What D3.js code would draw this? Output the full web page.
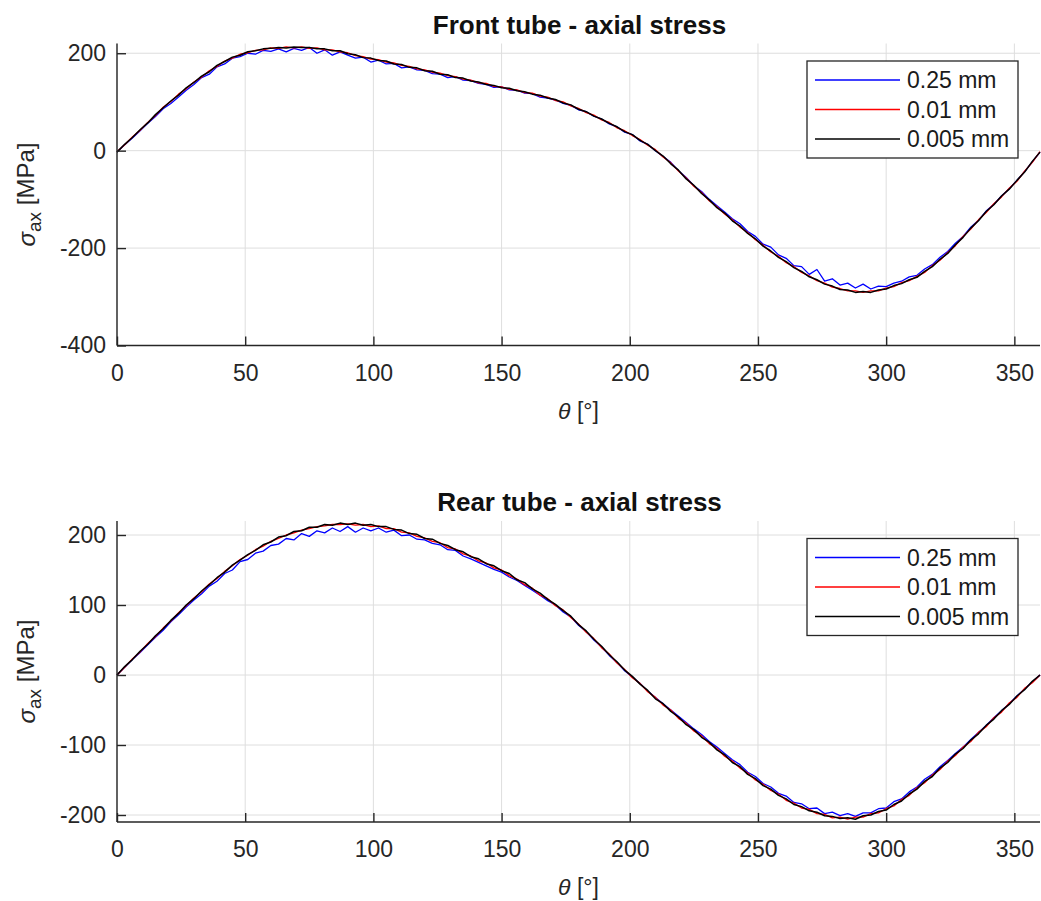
<!DOCTYPE html>
<html>
<head>
<meta charset="utf-8">
<script src="https://cdn.jsdelivr.net/npm/d3@7"></script>
<style>
  body { margin: 0; background: #fff; }
  text { font-family: "Liberation Sans", Arial, Helvetica, sans-serif; }
</style>
</head>
<body>
<svg id="fig" width="1041" height="901"></svg>
<script>
// Crank angle grid (degrees), one sample every 3°
const theta = d3.range(0, 361, 3);

const xTicks = [0, 50, 100, 150, 200, 250, 300, 350];
const frontYTicks = [-400, -200, 0, 200];
const rearYTicks = [-200, -100, 0, 100, 200];

const seriesNames = ["0.25 mm", "0.01 mm", "0.005 mm"];
const seriesColors = ["#0000ff", "#ff0000", "#000000"];

// Front tube axial stress [MPa]
const front025 = [
  -3, 12, 26, 41, 56, 70, 86, 97, 110, 124,
  136, 150, 157, 172, 178, 190, 193, 200, 198, 206,
  204, 209, 203, 210, 206, 212, 200, 207, 196, 203,
  196, 190, 192, 182, 186, 178, 179, 170, 172, 166,
  165, 158, 157, 150, 152, 145, 144, 138, 136, 130,
  131, 125, 124, 118, 117, 110, 108, 104, 97, 93,
  84, 80, 71, 65, 55, 49, 38, 33, 20, 13,
  0, -12, -24, -41, -55, -72, -84, -100, -113, -126,
  -140, -150, -166, -176, -192, -198, -214, -221, -236, -238,
  -254, -244, -268, -263, -276, -272, -282, -274, -284, -278,
  -279, -272, -268, -259, -256, -243, -234, -219, -207, -190,
  -176, -157, -143, -124, -110, -93, -78, -61, -43, -23,
  -3
];
const front001 = [
  -2, 12, 28, 42, 58, 72, 89, 101, 116, 127,
  141, 151, 164, 173, 184, 190, 198, 201, 206, 207,
  211, 210, 213, 211, 213, 210, 211, 207, 207, 203,
  201, 195, 193, 188, 187, 182, 180, 175, 173, 168,
  166, 161, 159, 154, 152, 147, 145, 139, 138, 132,
  131, 126, 125, 119, 118, 112, 110, 103, 100, 92,
  87, 78, 73, 63, 58, 47, 41, 31, 23, 11,
  2, -13, -25, -42, -56, -73, -86, -103, -115, -130,
  -142, -157, -168, -183, -194, -208, -217, -230, -238, -250,
  -257, -267, -272, -280, -283, -288, -288, -291, -288, -288,
  -282, -279, -271, -267, -258, -250, -236, -225, -209, -195,
  -176, -161, -142, -127, -109, -95, -77, -63, -42, -24,
  -2
];
const front0005 = [
  -3, 13, 27, 43, 57, 74, 88, 102, 114, 129,
  140, 153, 162, 175, 183, 192, 196, 203, 205, 209,
  210, 212, 211, 213, 212, 212, 209, 209, 205, 205,
  199, 197, 191, 190, 185, 184, 178, 177, 171, 170,
  164, 163, 157, 156, 150, 149, 143, 141, 136, 134,
  129, 128, 123, 121, 116, 114, 108, 105, 98, 94,
  85, 80, 71, 65, 56, 49, 39, 33, 21, 13,
  0, -11, -27, -40, -58, -71, -88, -101, -117, -128,
  -144, -155, -170, -181, -196, -206, -219, -228, -240, -248,
  -259, -265, -274, -278, -285, -286, -291, -289, -291, -286,
  -284, -277, -273, -265, -260, -248, -238, -223, -211, -193,
  -178, -159, -144, -125, -111, -93, -79, -61, -44, -22,
  -3
];

// Rear tube axial stress [MPa]
const rear025 = [
  0, 11, 22, 32, 43, 54, 64, 76, 86, 97,
  107, 116, 127, 134, 145, 150, 162, 165, 174, 177,
  185, 187, 195, 193, 202, 198, 206, 203, 210, 205,
  212, 204, 210, 206, 210, 204, 207, 199, 200, 194,
  193, 188, 186, 179, 178, 170, 166, 161, 156, 151,
  147, 140, 135, 128, 121, 114, 106, 100, 90, 83,
  71, 62, 50, 40, 28, 18, 6, -3, -12, -23,
  -32, -41, -50, -59, -68, -77, -85, -95, -103, -112,
  -121, -128, -139, -145, -155, -160, -169, -173, -182, -184,
  -191, -190, -198, -196, -201, -198, -202, -197, -197, -191,
  -190, -181, -177, -167, -160, -149, -142, -131, -122, -112,
  -103, -92, -82, -72, -61, -51, -41, -30, -20, -10,
  0
];
const rear001 = [
  0, 11, 23, 33, 45, 55, 67, 77, 89, 99,
  110, 119, 130, 138, 148, 156, 165, 171, 179, 184,
  191, 195, 200, 203, 207, 209, 212, 213, 215, 215,
  216, 214, 215, 212, 213, 209, 209, 204, 203, 198,
  196, 191, 189, 182, 180, 173, 170, 163, 160, 153,
  150, 142, 137, 129, 124, 114, 109, 99, 93, 82,
  73, 61, 52, 39, 30, 17, 8, -4, -12, -24,
  -32, -43, -50, -62, -69, -80, -87, -98, -105, -116,
  -123, -133, -140, -150, -156, -165, -170, -179, -183, -190,
  -192, -198, -199, -204, -203, -206, -203, -203, -198, -197,
  -191, -187, -178, -172, -161, -154, -143, -135, -123, -115,
  -103, -95, -82, -74, -61, -53, -40, -32, -19, -11,
  0
];
const rear0005 = [
  0, 12, 22, 34, 44, 56, 66, 78, 88, 100,
  109, 120, 129, 139, 147, 157, 164, 172, 178, 186,
  190, 197, 199, 205, 206, 211, 211, 215, 214, 217,
  215, 217, 214, 215, 212, 212, 208, 207, 202, 201,
  195, 194, 188, 185, 179, 176, 169, 166, 159, 156,
  149, 145, 136, 132, 123, 117, 108, 101, 92, 84,
  72, 63, 51, 41, 29, 19, 7, -2, -13, -22,
  -34, -41, -52, -60, -71, -78, -89, -96, -107, -114,
  -125, -131, -142, -148, -158, -163, -172, -177, -185, -188,
  -194, -196, -201, -202, -205, -204, -206, -201, -200, -195,
  -193, -185, -180, -170, -163, -152, -145, -133, -125, -113,
  -105, -93, -84, -72, -63, -51, -42, -30, -21, -9,
  0
];

const panels = [
  { title: "Front tube - axial stress", yDomain: [-400, 220], yTicks: frontYTicks,
    top: 43.5, bottom: 345.5, series: [front025, front001, front0005] },
  { title: "Rear tube - axial stress", yDomain: [-210, 220], yTicks: rearYTicks,
    top: 521, bottom: 822, series: [rear025, rear001, rear0005] }
];

const axisColor = "#262626";
const gridColor = "#dedede";
const left = 117, right = 1040;
const svg = d3.select("#fig");
const plain = d => String(d);   // hyphen-minus labels

panels.forEach(p => {
  const x = d3.scaleLinear().domain([0, 360]).range([left, right]);
  const y = d3.scaleLinear().domain(p.yDomain).range([p.bottom, p.top]);
  const g = svg.append("g");

  // grid
  g.append("g").selectAll("line").data(xTicks).join("line")
    .attr("x1", d => x(d)).attr("x2", d => x(d))
    .attr("y1", p.top).attr("y2", p.bottom)
    .attr("stroke", gridColor).attr("stroke-width", 1);
  g.append("g").selectAll("line").data(p.yTicks).join("line")
    .attr("x1", left).attr("x2", right)
    .attr("y1", d => y(d)).attr("y2", d => y(d))
    .attr("stroke", gridColor).attr("stroke-width", 1);

  // series
  const line = d3.line().x((d, i) => x(theta[i])).y(d => y(d));
  p.series.forEach((s, k) => {
    g.append("path").datum(s)
      .attr("d", line)
      .attr("fill", "none")
      .attr("stroke", seriesColors[k])
      .attr("stroke-width", k === 2 ? 1.5 : 1.3)
      .attr("stroke-linejoin", "round");
  });

  // axes (ticks pointing inward)
  const xAxis = d3.axisBottom(x).tickValues(xTicks).tickFormat(plain)
    .tickSizeInner(-9).tickSizeOuter(0).tickPadding(19);
  const gx = g.append("g").attr("transform", `translate(0,${p.bottom})`).call(xAxis);
  const yAxis = d3.axisLeft(y).tickValues(p.yTicks).tickFormat(plain)
    .tickSizeInner(-9).tickSizeOuter(0).tickPadding(11);
  const gy = g.append("g").attr("transform", `translate(${left},0)`).call(yAxis);
  [gx, gy].forEach(a => {
    a.select(".domain").attr("stroke", axisColor).attr("stroke-width", 1.4);
    a.selectAll(".tick line").attr("stroke", axisColor).attr("stroke-width", 1.4);
    a.selectAll(".tick text").attr("fill", axisColor)
      .style("font-size", "23px").style("font-family", '"Liberation Sans", Arial, sans-serif');
  });
  // axis lines span the full plot box
  gy.select(".domain").attr("d", `M0,${p.top}V${p.bottom}`);
  gx.select(".domain").attr("d", `M${left},0H${right}`);

  // title
  svg.append("text")
    .attr("x", (left + right) / 2 + 1).attr("y", p.top - 10)
    .attr("text-anchor", "middle")
    .style("font-size", "26px").style("font-weight", "bold")
    .attr("fill", "#111")
    .text(p.title);

  // x label
  const xl = svg.append("text")
    .attr("x", (left + right) / 2).attr("y", p.bottom + 73)
    .attr("text-anchor", "middle")
    .style("font-size", "23px").attr("fill", axisColor);
  xl.append("tspan").style("font-style", "italic").text("θ");
  xl.append("tspan").text(" [°]");

  // y label
  const cy = (p.top + p.bottom) / 2;
  const yl = svg.append("text")
    .attr("transform", `translate(35,${cy}) rotate(-90)`)
    .attr("text-anchor", "middle")
    .style("font-size", "24px").attr("fill", axisColor);
  yl.append("tspan").style("font-style", "italic").text("σ");
  yl.append("tspan").attr("dy", "0.3em").style("font-size", "19px").text("ax");
  yl.append("tspan").attr("dy", "-0.3em").text(" [MPa]");

  // legend
  const lgX = 807, lgW = 211, lgH = 97;
  const lgY = p.top + 17.5;
  const lg = svg.append("g");
  lg.append("rect").attr("x", lgX).attr("y", lgY).attr("width", lgW).attr("height", lgH)
    .attr("fill", "#fff").attr("stroke", axisColor).attr("stroke-width", 1.3);
  seriesNames.forEach((name, k) => {
    const ry = lgY + 19 + k * 29.5;
    lg.append("line").attr("x1", lgX + 8).attr("x2", lgX + 93)
      .attr("y1", ry).attr("y2", ry)
      .attr("stroke", seriesColors[k]).attr("stroke-width", 1.5);
    lg.append("text").attr("x", lgX + 100).attr("y", ry)
      .attr("dy", "0.35em")
      .style("font-size", "23px").attr("fill", "#1a1a1a")
      .text(name);
  });
});
</script>
</body>
</html>
